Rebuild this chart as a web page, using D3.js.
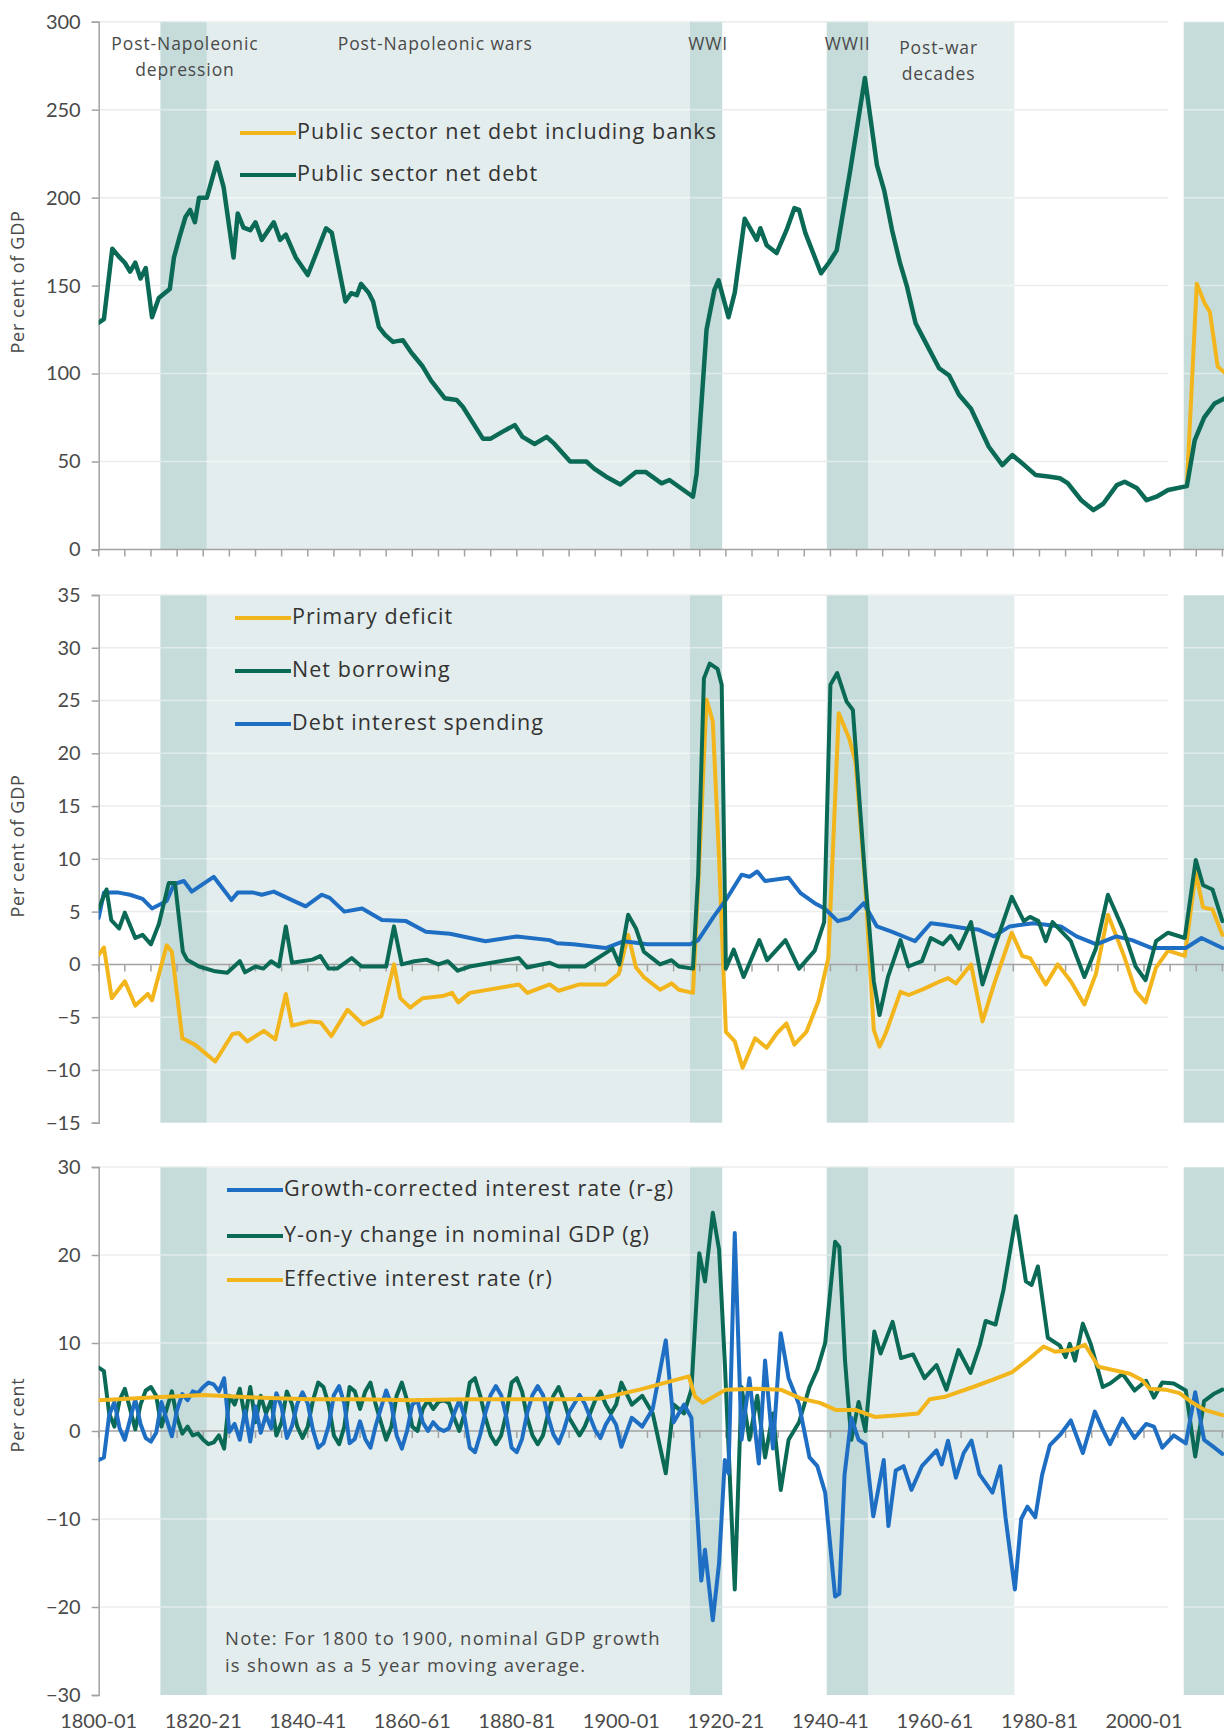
<!DOCTYPE html>
<html><head><meta charset="utf-8">
<script src="https://cdn.jsdelivr.net/npm/d3@7"></script>
<style>
body{margin:0;background:#fff;}
svg{display:block;font-family:"Open Sans","Noto Sans",sans-serif;}
</style></head><body>
<svg id="chart" width="1224" height="1734"></svg>
<script>
// ---------------- DATA ----------------
const xTickYears = [1800,1820,1840,1860,1880,1900,1920,1940,1960,1980,2000];
const xTickLabels = ["1800-01","1820-21","1840-41","1860-61","1880-81","1900-01","1920-21","1940-41","1960-61","1980-81","2000-01"];

const bandStarts = [1811.8, 1820.7, 1913.1, 1939.3, 1947.3, 2007.6];
const bandEnds   = [1820.7, 1913.1, 1919.3, 1947.3, 1975.2, 2030];
const bandKinds  = ["dark","light","dark","dark","light","dark"];
const bandLabelText = ["Post-Napoleonic|depression","Post-Napoleonic wars","WWI","WWII","Post-war|decades"];
const bandLabelYear = [1816.5, 1864.4, 1916.6, 1943.3, 1960.7];

// Panel 1: public sector net debt (% GDP)
const debtYears = [1800,1801,1802.6,1804,1805,1806,1807,1808,1809,1810.2,1811.5,1813.6,1814.4,1815.5,1816.6,1817.5,1818.4,1819.2,1820.7,1822.6,1823.9,1825.8,1826.6,1827.7,1829,1830,1831.2,1833.5,1834.7,1835.8,1837.7,1840,1843.5,1844.6,1847.2,1848.3,1849.4,1850.2,1851.7,1852.5,1853.6,1854.8,1856.3,1858.2,1859.8,1862,1863.6,1866.2,1868.5,1869.7,1873.5,1875,1877.3,1879.6,1881.1,1883.4,1885.7,1887.2,1890.2,1891.8,1893.3,1894.8,1897.1,1899.8,1902.8,1904.7,1907.7,1909.2,1913.7,1914.4,1916.3,1917.8,1918.6,1920.5,1921.7,1923.6,1925.9,1926.6,1927.8,1929.7,1931.6,1933.1,1934,1935.2,1938.2,1939.7,1941.2,1943.8,1946.6,1948.9,1950.3,1951.8,1953.3,1954.6,1956.3,1957.8,1960.8,1962.7,1964.6,1966.9,1970.3,1972.9,1974.8,1976.3,1979.3,1982,1983.9,1985.4,1988,1990.3,1992.2,1994.8,1996.3,1998.6,2000.5,2002.4,2004.6,2008.2,2009.7,2011.5,2013.5,2015.5];
const debtValues = [129,131,171,166,163,158,163,154,160,132,143,148,166,178,189,193,186,200,200,220,206,166,191,183,181.5,186,176,186,176,179,166,156,182.6,180,141,145.7,144.6,151,145.7,141,126.6,122,118,119,112,104,96,86,85,81,63,63,67,70.7,64,60,64,60,50,50,50,46,41.4,37,44,44,37.6,39.5,30,43,125,147.5,153,132,146,188,176,182.6,173,168.5,181.5,194,193,180,157,163,170,215.6,268,218.5,204,181.5,163,150,128.6,120,103,99,88,80,58.4,48,53.7,50,42.3,41.4,40.5,37.7,28,22.4,26,36.6,38.5,35,28,30,33.8,36,62,75,83,86];
const debtBankYears  = [2008.2,2010.1,2011.6,2012.6,2014.1,2016];
const debtBankValues = [36,151,140,135,104,99];

// Panel 2: % GDP
const pdYears  = [1800,1801,1802.5,1805,1807,1809.4,1810.2,1813,1814,1816,1818.4,1822.3,1825.6,1826.8,1828.4,1831.6,1833.8,1835.8,1837,1840.4,1842.5,1844.5,1847.6,1850.6,1854.1,1856.5,1857.7,1859.6,1862,1865.8,1867.6,1868.8,1871,1880.4,1882,1886.3,1888,1892,1897,1899.5,1901.3,1902.8,1904.3,1907.4,1909.6,1911,1913.7,1914.8,1916.3,1917.5,1918.7,1920,1921.7,1923.2,1925.6,1927.8,1929.8,1931.6,1933.1,1935.4,1937.7,1939.6,1941.6,1943.6,1944.8,1946.6,1948.3,1949.4,1950.6,1953.4,1955,1958,1961,1962.5,1964,1966.9,1969.1,1971.3,1974.7,1976.7,1978.2,1981.2,1983.5,1986,1988.6,1990.8,1993.1,1996.1,1998.4,2000.3,2002.3,2004.6,2007.8,2009.9,2011.3,2013.1,2015];
const pdValues = [0.9,1.6,-3.2,-1.6,-3.9,-2.8,-3.4,1.8,1.2,-7,-7.6,-9.2,-6.6,-6.5,-7.3,-6.3,-7.1,-2.8,-5.8,-5.4,-5.5,-6.8,-4.3,-5.7,-4.9,0,-3.2,-4.1,-3.2,-3,-2.7,-3.6,-2.7,-1.9,-2.7,-1.9,-2.5,-1.9,-1.9,-0.9,2.8,-0.3,-1.2,-2.4,-1.8,-2.4,-2.7,8.5,25.1,23,10,-6.4,-7.3,-9.8,-7,-7.9,-6.5,-5.6,-7.6,-6.4,-3.5,0.6,23.8,21.4,19.2,8,-6.2,-7.8,-6.5,-2.6,-2.9,-2.3,-1.6,-1.3,-1.8,0,-5.4,-1.9,3,0.8,0.6,-1.9,0,-1.6,-3.8,-0.9,4.7,0.9,-2.5,-3.6,-0.3,1.3,0.8,8.7,5.4,5.2,2.8];

const nbYears  = [1800,1801.5,1802.4,1803.9,1805,1807,1808.4,1810,1811.5,1813.4,1814.6,1816.1,1816.9,1819.2,1822.3,1824.6,1827,1828,1830,1831.5,1833,1834.5,1835.8,1837,1840.9,1842.4,1844,1845.6,1848.4,1850.3,1853.5,1855,1856.5,1858,1860.4,1862.7,1865,1866.8,1868.7,1871,1880.4,1882,1886.3,1888,1893,1898.3,1899.6,1901.3,1902.8,1904.3,1907.4,1909.6,1911,1913.7,1914.7,1915.8,1916.9,1918.4,1919.2,1920,1921.5,1923.4,1926.4,1927.9,1931.4,1934,1937,1938.8,1940,1941.3,1943.1,1944.3,1946.6,1948.3,1949.4,1951,1953.4,1954.9,1957.5,1959.2,1961.5,1963,1964.6,1966.9,1969.1,1971.3,1974.7,1977,1978.2,1979.8,1981.2,1982.5,1986,1988.6,1990.8,1993.1,1996.1,1998.4,2000.3,2002.3,2004.6,2007.8,2009.9,2011.3,2013.1,2015];
const nbValues = [5.3,7.1,4.2,3.4,4.9,2.5,2.8,1.9,3.8,7.7,7.7,1.2,0.45,-0.2,-0.66,-0.8,0.3,-0.75,-0.2,-0.4,0.3,-0.2,3.6,0.15,0.45,0.8,-0.4,-0.4,0.6,-0.2,-0.2,-0.2,3.6,0,0.3,0.45,0,0.3,-0.6,-0.2,0.6,-0.3,0.15,-0.2,-0.2,1.5,0,4.7,3.4,1.2,0,0.4,-0.2,-0.4,8.5,27.1,28.5,28,26.5,-0.4,1.4,-1.2,2.3,0.4,2.3,-0.4,1.3,4,26.5,27.6,24.9,24.1,8.5,-1.6,-4.8,-1.2,2.3,-0.2,0.3,2.5,1.9,2.7,1.5,4,-1.9,1.5,6.4,4.1,4.5,4.1,2.2,4,2.2,-1.2,1.5,6.6,3.2,-0.2,-1.5,2.2,3,2.5,9.9,7.5,7.1,4.1];

const diYears  = [1800,1801,1803.8,1806,1808.4,1810.2,1813,1814.4,1816.3,1817.8,1822,1825.4,1826.6,1829.6,1831.2,1833.5,1837.4,1839.6,1842.7,1844.2,1847,1850.4,1854.2,1858.8,1862.6,1867.2,1874,1880,1886.3,1887.7,1890.8,1897,1900.5,1905,1913.2,1914.7,1917.7,1920,1923,1924.5,1926,1927.5,1932,1934.3,1937,1938.9,1941.4,1943.6,1946.4,1948.9,1951.7,1954.7,1956.2,1959.2,1961.5,1966,1968.3,1971.3,1974.3,1978.8,1984.1,1987.1,1990.9,1994.7,1997.7,2001.5,2008,2011,2015];
const diValues = [4.4,6.8,6.8,6.6,6.2,5.3,6,7.6,7.9,6.9,8.3,6.1,6.8,6.8,6.6,6.9,6,5.5,6.6,6.3,5,5.3,4.2,4.1,3.1,2.9,2.2,2.65,2.3,2,1.9,1.55,2.2,1.9,1.9,2.3,4.55,6.1,8.5,8.3,8.8,7.9,8.2,6.75,5.8,5.3,4.1,4.4,5.8,3.6,3.1,2.5,2.2,3.9,3.75,3.4,3.3,2.65,3.6,3.9,3.6,2.65,1.9,2.65,2.3,1.55,1.55,2.5,1.55];

// Panel 3: per cent
const gYears = [1800,1801,1802,1803,1804,1805,1806,1807,1808,1809,1810,1811,1812,1813,1814,1815,1816,1817,1818,1819,1820,1821,1822,1823,1824,1825,1826,1827,1828,1829,1830,1831,1832,1833,1834,1835,1836,1837,1838,1839,1840,1841,1842,1843,1844,1845,1846,1847,1848,1849,1850,1851,1852,1853,1854,1855,1856,1857,1858,1859,1860,1861,1862,1863,1864,1865,1866,1867,1868,1869,1870,1871,1872,1873,1874,1875,1876,1877,1878,1879,1880,1881,1882,1883,1884,1885,1886,1887,1888,1889,1890,1891,1892,1893,1894,1895,1896,1897,1898,1899,1900,1902,1904,1906,1908.5,1910,1912,1913.4,1914.9,1916,1917.5,1918.7,1919.8,1921.7,1923,1924.5,1926,1927.5,1929,1930.5,1932,1934,1936,1937.5,1939,1940.9,1941.7,1942.8,1944,1945.4,1946.7,1948.4,1949.6,1951.9,1953.5,1955.8,1958,1960.3,1962.2,1964.5,1966.8,1968.6,1969.7,1971.6,1973.1,1975.5,1977.4,1978.5,1979.7,1981.6,1983.9,1985,1985.8,1986.8,1988.3,1989.8,1992.1,1993.5,1995.9,1998.2,2000.4,2001.9,2003.5,2005.7,2008,2009.8,2011.5,2013.3,2015];
const gValues = [7.2,6.8,2.0,0.5,3.5,4.8,2.5,0.2,3.0,4.6,5.0,4.0,0.5,2.5,4.5,1.5,-0.3,0.5,-0.5,-0.3,-1.0,-1.5,-1.3,-0.5,-2.0,4.0,3.0,4.8,1.5,5.0,1.0,4.0,2.0,3.5,-0.5,1.0,4.5,3.0,0.5,-0.8,0.5,3.5,5.5,5.0,3.0,-0.5,-1.5,0.5,5.0,4.5,2.5,4.5,5.5,3.0,1.0,-1.0,0.5,4.0,5.5,3.5,0.5,0.0,2.5,3.5,2.5,3.3,3.5,3.2,1.5,0.0,2.0,5.5,6.0,4.0,1.5,-0.5,-1.5,-0.5,2.0,5.5,6.0,4.5,1.5,-0.5,-1.5,-0.5,2.0,4.0,5.0,3.5,1.5,0.5,-0.5,0.5,2.0,3.5,4.5,3.0,2.0,3.0,5.5,3,4,2,-4.8,3,2,4.7,20.2,17,24.8,20.6,7.7,-18,5,-1,4,-3,2,-6.7,-1,1,5,7,10,21.5,20.9,8,-1,3.3,0,11.3,8.8,12.4,8.3,8.7,6.0,7.5,4.7,9.2,6.6,9.8,12.5,12.1,16,24.4,17,16.6,18.7,10.6,9.7,8.4,9.9,8,12.2,9.9,5,5.4,6.5,4.6,5.7,3.8,5.5,5.4,4.6,-2.9,3.4,4.2,4.7];

const rYears  = [1800,1810,1820,1830,1840,1850,1860,1870,1880,1890,1896,1903.5,1912.9,1914.1,1915.6,1920,1926,1930.5,1934.3,1938,1941,1944.8,1948.5,1953,1956.8,1959,1962,1967.3,1971,1974.8,1977.8,1980.8,1983,1986,1988.7,1991.3,1994.3,1997.3,1999.6,2001.1,2004.1,2006.8,2009.3,2011.6,2015];
const rValues = [3.5,3.8,4.1,3.8,3.6,3.6,3.5,3.6,3.6,3.6,3.7,4.7,6.2,3.9,3.2,4.7,4.8,4.7,3.7,3.2,2.4,2.4,1.6,1.8,2.0,3.6,3.9,5.0,5.8,6.7,8.1,9.6,9.0,9.2,9.8,7.3,6.9,6.5,5.8,4.8,4.7,4.3,3.2,2.4,1.8];

const rgYears = [1800,1801,1802,1803,1804,1805,1806,1807,1808,1809,1810,1811,1812,1813,1814,1815,1816,1817,1818,1819,1820,1821,1822,1823,1824,1825,1826,1827,1828,1829,1830,1831,1832,1833,1834,1835,1836,1837,1838,1839,1840,1841,1842,1843,1844,1845,1846,1847,1848,1849,1850,1851,1852,1853,1854,1855,1856,1857,1858,1859,1860,1861,1862,1863,1864,1865,1866,1867,1868,1869,1870,1871,1872,1873,1874,1875,1876,1877,1878,1879,1880,1881,1882,1883,1884,1885,1886,1887,1888,1889,1890,1891,1892,1893,1894,1895,1896,1897,1898,1899,1900,1902,1904,1906,1908.5,1910,1912,1913.4,1915.3,1916,1917.5,1918.7,1919.8,1920.5,1921.7,1923,1924.5,1926.3,1927.5,1929,1930.5,1932,1934,1936,1937.5,1939,1940.9,1941.7,1942.7,1944,1945.4,1946.7,1948.2,1950.2,1951.1,1952.5,1954,1955.5,1957.5,1960.3,1961.3,1962.5,1964,1965.5,1967,1968.5,1971,1972.5,1973.5,1975.3,1976.5,1977.7,1979.2,1980.5,1982,1984,1986,1988.3,1990.6,1992,1993.5,1995.9,1998.2,2000.4,2001.9,2003.5,2005.7,2008,2009.8,2011.5,2013.3,2015];
const rgValues = [-3.3,-3.0,1.8,3.3,0.3,-1.0,1.3,3.6,0.8,-0.8,-1.2,-0.2,3.3,1.3,-0.6,2.4,4.2,3.5,4.5,4.3,5.0,5.5,5.3,4.5,6.0,-0.1,0.8,-1.0,2.3,-1.2,2.8,-0.2,1.8,0.3,4.3,2.7,-0.8,0.6,3.1,4.4,3.1,0.1,-1.9,-1.4,0.6,4.1,5.1,3.1,-1.4,-0.9,1.1,-0.9,-1.9,0.6,2.6,4.6,3.0,-0.5,-2.0,0.0,3.0,3.5,1.0,0.0,1.0,0.3,0.0,0.3,2.0,3.5,1.6,-1.9,-2.4,-0.4,2.1,4.1,5.1,4.1,1.6,-1.9,-2.4,-0.9,2.1,4.1,5.1,4.1,1.6,-0.4,-1.4,0.1,2.1,3.1,4.1,3.1,1.6,0.1,-0.8,0.7,1.7,0.7,-1.8,1.5,0.5,2.5,10.3,1,3,1.5,-17,-13.5,-21.5,-15,-3.3,-4.8,22.5,-1,6,-3.7,8,-2,11.1,6,3,-3,-4,-7,-18.8,-18.5,-5,1.5,-1,-1.5,-9.7,-3.3,-10.8,-4.5,-4,-6.7,-4,-2.2,-3.8,-1.1,-5.3,-2.5,-1.1,-4.9,-7,-4,-9.8,-18,-10,-8.6,-9.8,-5,-1.6,-0.4,1.2,-2.5,2.2,0.3,-1.5,1.4,-0.8,0.8,0.5,-1.9,-0.5,-1.4,4.4,-1,-1.8,-2.6];

// ---------------- DRAW ----------------
const svg = d3.select("#chart");
const C_GREEN = "#0a6a56", C_YELLOW = "#f2b51c", C_BLUE = "#1e6fc3";
const C_DARK = "#c6dcda", C_LIGHT = "#e4eded", C_AXIS = "#a2a2a2", C_TEXT = "#4a4a4a";
const TICK_FONT = "Lato, 'Open Sans', sans-serif";

const x = d3.scaleLinear().domain([1800, 2000]).range([98.7, 1144]);
const xEnd = 1224;

const panels = [
  {domain:[0,300], range:[549.5,21.7], step:50, title:"Per cent of GDP", titleY:282},
  {domain:[-15,35], range:[1122.7,595], step:5, title:"Per cent of GDP", titleY:846},
  {domain:[-30,30], range:[1695,1167], step:10, title:"Per cent", titleY:1415}
];
panels.forEach(p => { p.y = d3.scaleLinear().domain(p.domain).range(p.range); });

const defs = svg.append("defs");
panels.forEach((p,i) => {
  defs.append("clipPath").attr("id","clip"+i).append("rect")
    .attr("x", x(1800)).attr("y", p.range[1]-10).attr("width", xEnd - x(1800)).attr("height", p.range[0]-p.range[1]+20);
  const bc = defs.append("clipPath").attr("id","bclip"+i);
  bandStarts.forEach((s,j) => {
    bc.append("rect").attr("x", x(s)).attr("y", p.range[1])
      .attr("width", Math.min(x(bandEnds[j]), xEnd) - x(s)).attr("height", p.range[0]-p.range[1]);
  });
});

panels.forEach((p,i) => {
  const g = svg.append("g");
  const ticks = d3.range(p.domain[0], p.domain[1]+0.001, p.step);
  const gridT = ticks.filter(t => t!==p.domain[0] && t!==0);
  g.selectAll(".gridg").data(gridT).enter().append("line")
    .attr("x1", x(1800)).attr("x2", 1168)
    .attr("y1", d => p.y(d)).attr("y2", d => p.y(d))
    .attr("stroke", "#ececec").attr("stroke-width",1.5);
  bandStarts.forEach((s,j) => {
    g.append("rect")
      .attr("x", x(s)).attr("y", p.range[1])
      .attr("width", Math.min(x(bandEnds[j]), xEnd) - x(s))
      .attr("height", p.range[0]-p.range[1])
      .attr("fill", bandKinds[j]==="dark" ? C_DARK : C_LIGHT);
  });
  g.append("g").attr("clip-path", `url(#bclip${i})`).selectAll("line").data(gridT).enter().append("line")
    .attr("x1", x(1800)).attr("x2", xEnd)
    .attr("y1", d => p.y(d)).attr("y2", d => p.y(d))
    .attr("stroke", "#ffffff").attr("stroke-opacity",0.45).attr("stroke-width",1.5);
  const ax = d3.axisLeft(p.y).tickValues(ticks).tickSize(7).tickPadding(11).tickFormat(d3.format("d"));
  const ag = g.append("g").attr("transform", `translate(${x(1800)},0)`).call(ax);
  ag.select(".domain").attr("stroke", C_AXIS).attr("stroke-width",1.5);
  ag.selectAll(".tick line").attr("stroke", C_AXIS).attr("stroke-width",1.5);
  ag.selectAll(".tick text").attr("fill", C_TEXT).style("font-size","20px").style("font-family",TICK_FONT);
  const y0 = p.y(0);
  g.append("line").attr("x1", x(1800)).attr("x2", xEnd).attr("y1", y0).attr("y2", y0)
    .attr("stroke", C_AXIS).attr("stroke-width",1.5);
  const xt = d3.range(1800, 2030, 5);
  g.selectAll(".xt").data(xt).enter().append("line")
    .attr("x1", d => x(d)).attr("x2", d => x(d)).attr("y1", y0).attr("y2", y0+7)
    .attr("stroke", C_AXIS).attr("stroke-width",1.5);
  svg.append("text").attr("transform", `translate(19,${p.titleY}) rotate(-90)`)
    .attr("text-anchor","middle").attr("dominant-baseline","middle")
    .attr("fill", C_TEXT).style("font-size","18px").style("letter-spacing","0.7px").text(p.title);
});

bandLabelText.forEach((t,j) => {
  const lines = t.split("|");
  const tx = svg.append("text").attr("text-anchor","middle")
    .attr("fill", C_TEXT).style("font-size","17.5px").style("letter-spacing","0.9px");
  lines.forEach((ln,k) => tx.append("tspan").attr("x", x(bandLabelYear[j])).attr("y", (j===4?49:45) + k*26).attr("dominant-baseline","middle").text(ln));
});

function drawLine(pi, xs, vs, color, w) {
  const p = panels[pi];
  const data = xs.map((d,i) => [d, vs[i]]);
  svg.append("path").datum(data)
    .attr("clip-path", `url(#clip${pi})`)
    .attr("fill","none").attr("stroke", color).attr("stroke-width", w)
    .attr("stroke-linejoin","round").attr("stroke-linecap","round")
    .attr("d", d3.line().x(d => x(d[0])).y(d => p.y(d[1])));
}

drawLine(0, debtBankYears, debtBankValues, C_YELLOW, 4);
drawLine(0, debtYears, debtValues, C_GREEN, 4.5);
drawLine(1, pdYears, pdValues, C_YELLOW, 4);
drawLine(1, diYears, diValues, C_BLUE, 4);
drawLine(1, nbYears, nbValues, C_GREEN, 4);
drawLine(2, gYears, gValues, C_GREEN, 4);
drawLine(2, rgYears, rgValues, C_BLUE, 4);
drawLine(2, rYears, rValues, C_YELLOW, 4);

function legend(items, x0, ys) {
  items.forEach((it,i) => {
    svg.append("line").attr("x1", x0).attr("x2", x0+56).attr("y1", ys[i]).attr("y2", ys[i])
      .attr("stroke", it[1]).attr("stroke-width", 4);
    svg.append("text").attr("x", x0+57).attr("y", ys[i]).attr("dominant-baseline","middle")
      .attr("fill", "#333").style("font-size","21.5px").style("letter-spacing","1.05px").text(it[0]);
  });
}
legend([["Public sector net debt including banks", C_YELLOW],["Public sector net debt", C_GREEN]], 240, [133,175]);
legend([["Primary deficit", C_YELLOW],["Net borrowing", C_GREEN],["Debt interest spending", C_BLUE]], 235, [618,671,724]);
legend([["Growth-corrected interest rate (r-g)", C_BLUE],["Y-on-y change in nominal GDP (g)", C_GREEN],["Effective interest rate (r)", C_YELLOW]], 227, [1190,1236,1280]);

const note = svg.append("text").attr("fill", C_TEXT).style("font-size","18.5px").style("letter-spacing","1.2px");
note.append("tspan").attr("x", 225).attr("y", 1640).attr("dominant-baseline","middle").text("Note: For 1800 to 1900, nominal GDP growth");
note.append("tspan").attr("x", 225).attr("y", 1667).attr("dominant-baseline","middle").text("is shown as a 5 year moving average.");

svg.selectAll(".xl").data(xTickYears).enter().append("text")
  .attr("x", d => x(d)).attr("y", 1723).attr("text-anchor","middle").attr("dominant-baseline","middle")
  .attr("fill", C_TEXT).style("font-size","20px").style("font-family",TICK_FONT)
  .text((d,i) => xTickLabels[i]);
</script>
</body></html>
